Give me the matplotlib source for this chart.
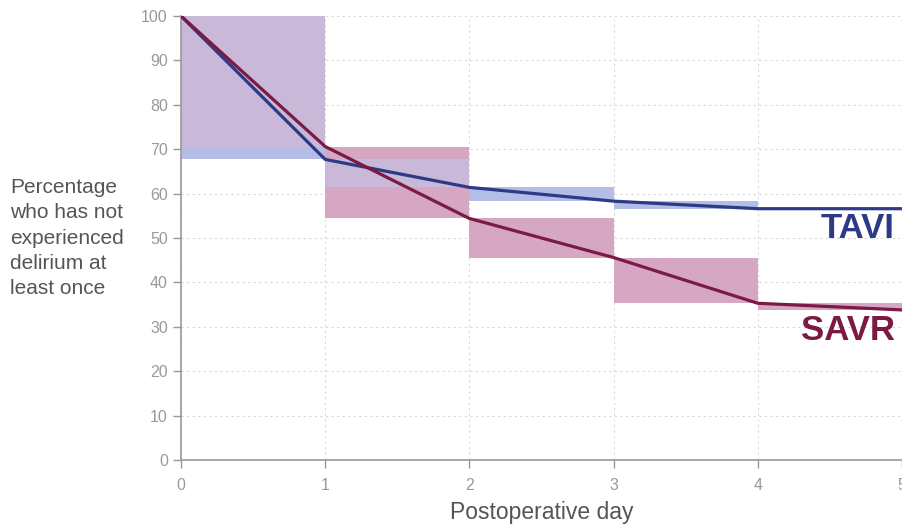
import matplotlib.pyplot as plt

plt.rcParams['font.family'] = ['Liberation Sans', 'DejaVu Sans']

days = [0, 1, 2, 3, 4, 5]
tavi = [100, 67.7, 61.4, 58.3, 56.6, 56.6]
savr = [100, 70.6, 54.4, 45.6, 35.3, 33.8]

blue_line = '#2e3a87'
red_line = '#7b1a45'
blue_fill = '#b3bde5'
red_fill = '#d5a7c2'
both_fill = '#c9b8d7'
grey = '#999999'

fig = plt.figure(figsize=(9.02, 5.26), dpi=100)
ax = fig.add_axes([181 / 902, 66 / 526, 721 / 902, 444 / 526])

# interval boxes between successive days, overlap drawn in purple
for i in range(len(days) - 1):
    x0, w = days[i], days[i + 1] - days[i]
    b_lo, b_hi = sorted([tavi[i], tavi[i + 1]])
    r_lo, r_hi = sorted([savr[i], savr[i + 1]])
    ax.bar(x0, b_hi - b_lo, width=w, bottom=b_lo, align='edge',
           color=blue_fill, linewidth=0, zorder=1)
    ax.bar(x0, r_hi - r_lo, width=w, bottom=r_lo, align='edge',
           color=red_fill, linewidth=0, zorder=1)
    lo, hi = max(b_lo, r_lo), min(b_hi, r_hi)
    if hi > lo:
        ax.bar(x0, hi - lo, width=w, bottom=lo, align='edge',
               color=both_fill, linewidth=0, zorder=2)

ax.plot(days, tavi, color=blue_line, lw=2.3, zorder=4, solid_capstyle='butt')
ax.plot(days, savr, color=red_line, lw=2.3, zorder=4, solid_capstyle='butt')

ax.text(4.95, 50, 'TAVI', color=blue_line, fontsize=25, fontweight='bold',
        ha='right', va='baseline')
ax.text(4.95, 27, 'SAVR', color=red_line, fontsize=25, fontweight='bold',
        ha='right', va='baseline')

ax.set_xlim(0, 5)
ax.set_ylim(0, 100)
ax.set_xticks(range(0, 6))
ax.set_yticks(range(0, 101, 10))
ax.grid(True, color='#d8d8d8', linestyle=(0, (2, 3)), linewidth=0.8, zorder=0)
ax.set_axisbelow(True)

for s in ['top', 'right']:
    ax.spines[s].set_visible(False)
for s in ['left', 'bottom']:
    ax.spines[s].set_color(grey)
    ax.spines[s].set_linewidth(1.2)
ax.tick_params(colors=grey, labelcolor=grey, labelsize=11.5, length=6, width=1)
ax.tick_params(axis='x', pad=7)

ax.set_xlabel('Postoperative day', fontsize=16.5, color='#555555', labelpad=6)
fig.text(10 / 902, 1 - 238 / 526,
         'Percentage\nwho has not\nexperienced\ndelirium at\nleast once',
         fontsize=15, color='#555555', ha='left', va='center', linespacing=1.42)

fig.savefig('out.png', dpi=100)
